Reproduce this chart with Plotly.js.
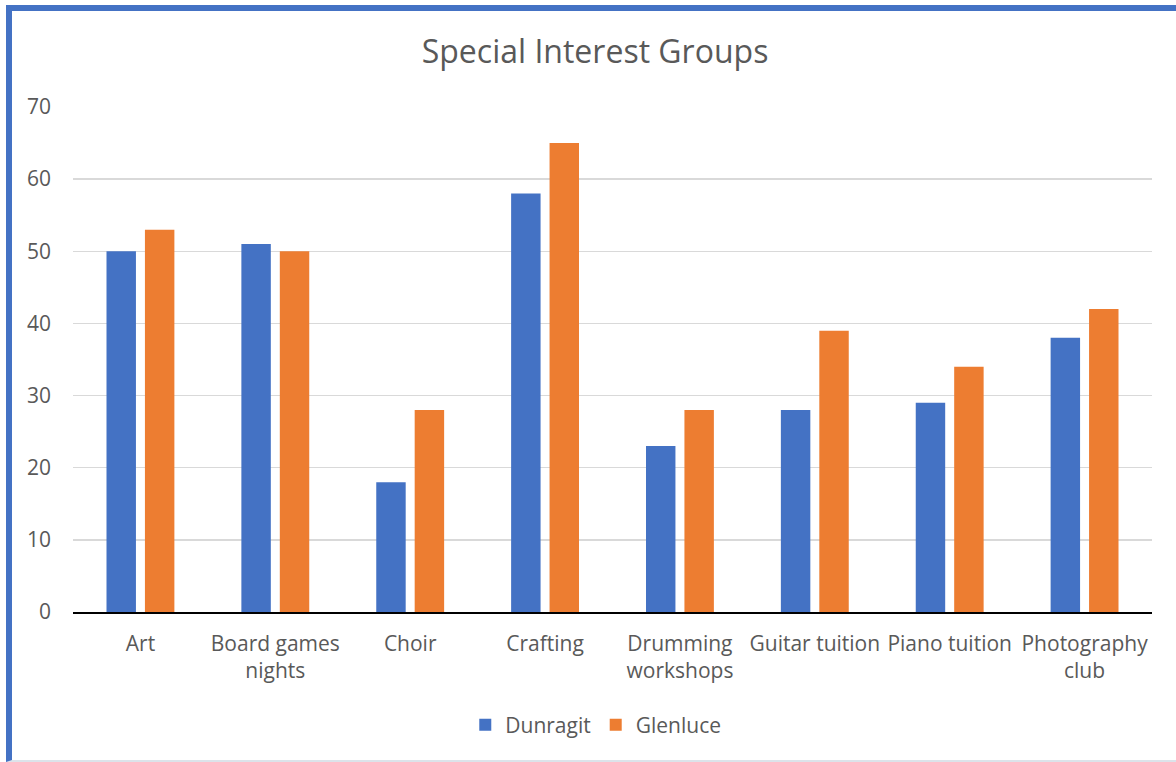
<!DOCTYPE html>
<html>
<head>
<meta charset="utf-8">
<script src="https://cdn.plot.ly/plotly-3.0.1.min.js"></script>
<style>
html,body{margin:0;padding:0;background:#fff;}
#frame{position:absolute;left:6px;top:5px;width:1180px;height:749px;border-left:6px solid #4472C4;border-top:6px solid #4472C4;border-bottom:2px solid #DCE3EA;box-sizing:content-box;}
#chart{position:absolute;left:0;top:0;width:1176px;height:762px;}
</style>
</head>
<body>
<div id="frame"></div>
<div id="chart"></div>
<script>
const categories = ["Art","Board games<br>nights","Choir","Crafting","Drumming<br>workshops","Guitar tuition","Piano tuition","Photography<br>club"];
const dunragit = [50,51,18,58,23,28,29,38];
const glenluce = [53,50,28,65,28,39,34,42];
const yTicks = [0,10,20,30,40,50,60,70];

const font = "Open Sans, Noto Sans, sans-serif";
const data = [
  {type:"bar", name:"Dunragit", x:categories, y:dunragit, marker:{color:"#4472C4"}},
  {type:"bar", name:"Glenluce", x:categories, y:glenluce, marker:{color:"#ED7D31"}}
];
const layout = {
  width:1176, height:762,
  paper_bgcolor:"rgba(0,0,0,0)", plot_bgcolor:"rgba(0,0,0,0)",
  margin:{l:73, r:24, t:107, b:150},
  font:{family:font, color:"#595959", size:21},
  title:{text:"Special Interest Groups", font:{family:font, size:32, color:"#595959"}, x:0.506, xanchor:"center", y:1-52/762, yanchor:"middle"},
  barmode:"group", bargap:0.43, bargroupgap:0.234,
  xaxis:{showline:true, linecolor:"#000", linewidth:1.5, ticks:"", ticklabelstandoff:12, tickfont:{size:21, color:"#595959"}, fixedrange:true},
  yaxis:{range:[0,70], tickvals:yTicks, showgrid:true, gridcolor:"#D9D9D9", gridwidth:1.3, zeroline:false, showline:false, ticks:"", ticklabelstandoff:21, tickfont:{size:21, color:"#595959"}},
  legend:{orientation:"h", x:0.4845, xanchor:"center", y:-0.224, yanchor:"middle", font:{size:21, color:"#595959"}},
  showlegend:true
};
Plotly.newPlot("chart", data, layout, {displayModeBar:false, staticPlot:true});
</script>
</body>
</html>
